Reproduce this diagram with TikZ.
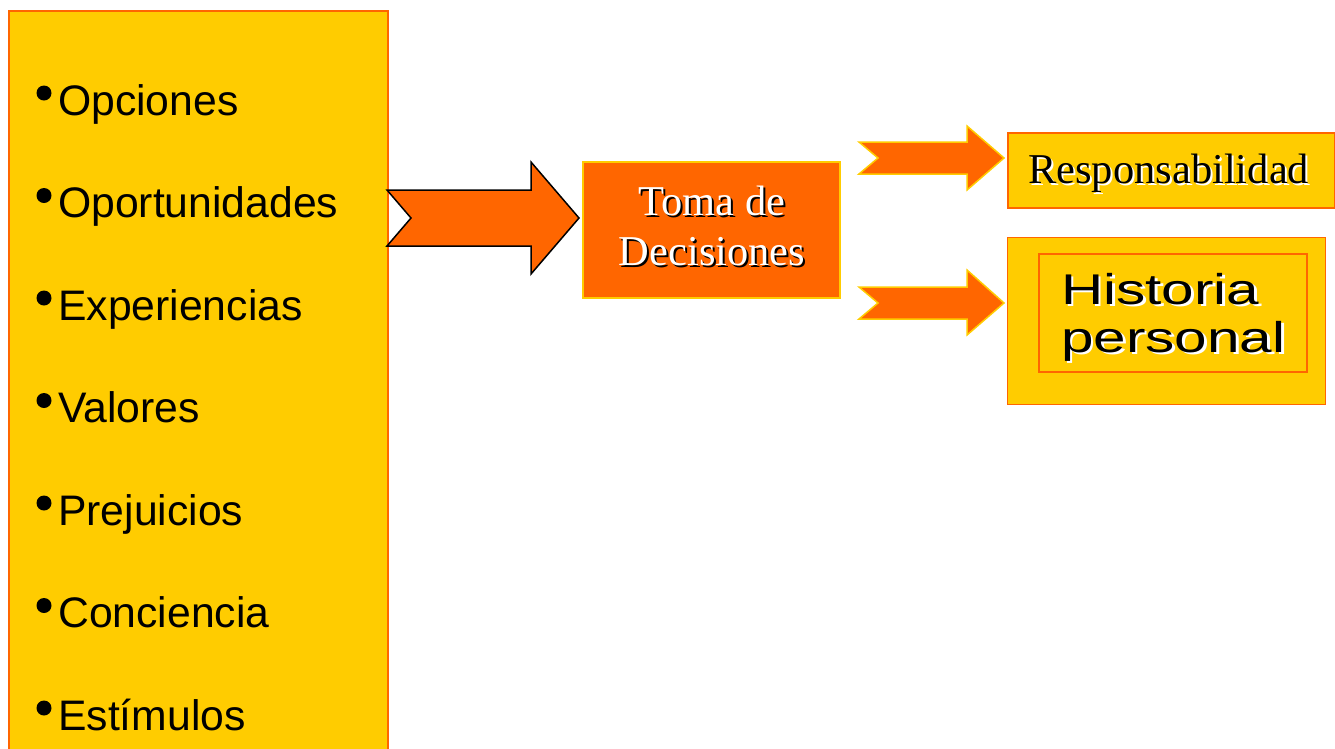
\documentclass[tikz,border=0pt]{standalone}
\usepackage{fontspec}
\setmainfont{Liberation Serif}
\newfontfamily\arialf{Liberation Sans}
\usepackage{graphicx}
\definecolor{yel}{HTML}{FFCC00}
\definecolor{org}{HTML}{FF6600}
\newcommand\shtxt[3]{\leavevmode\rlap{\hspace{2pt}\raisebox{-2pt}{\color{#1}#3}}{\color{#2}#3}}
\tikzset{
  itemtxt/.style={anchor=base west, inner sep=0pt, font=\arialf\fontsize{42.7}{50}\selectfont},
  bulletdot/.style={circle, fill=black, inner sep=0pt, minimum size=15pt},
  serift/.style={inner sep=0pt, font=\fontsize{42.5}{50}\selectfont},
  histt/.style={anchor=base west, inner sep=0pt, font=\arialf\fontsize{43}{50}\selectfont},
  blockarrowbig/.style={draw=black, line width=1.5pt, fill=org, line join=miter},
  blockarrowsmall/.style={draw=yel, line width=1.5pt, fill=org, line join=miter},
}
\begin{document}
\begin{tikzpicture}[x=1pt,y=-1pt]
\useasboundingbox (0,0) rectangle (1335,748);
\clip (0,0) rectangle (1335,748);
% left box
\node[draw=org, fill=yel, line width=1.5pt, minimum width=379pt, minimum height=760pt, anchor=north west, inner sep=0pt] (left) at (8,10) {};
\foreach \t [count=\i from 0] in {Opciones,Oportunidades,Experiencias,Valores,Prejuicios,Conciencia,Estímulos}{
  \node[bulletdot] (b\i) at (44,{115+102.5*\i-22}) {};
  \node[itemtxt] (it\i) at (58,{115+102.5*\i}) {\t};
}
% big arrow
\draw[blockarrowbig] (387,190) -- (531,190) -- (531,162) -- (579,218) -- (531,274) -- (531,246) -- (387,246) -- (411,218) -- cycle;
% toma box
\node[draw=yel, fill=org, line width=1.5pt, minimum width=257pt, minimum height=136pt, inner sep=0pt] (toma) at (711.5,230) {};
\node[serift, anchor=base] (toma1) at (712,215) {\shtxt{black}{white}{Toma de}};
\node[serift, anchor=base] (toma2) at (712,265) {\shtxt{black}{white}{Decisiones}};
% small arrows
\draw[blockarrowsmall] (859,142) -- (967,142) -- (967,126) -- (1004,158) -- (967,190) -- (967,174) -- (859,174) -- (878,158) -- cycle;
\draw[blockarrowsmall] (859,287) -- (967,287) -- (967,270) -- (1004,303) -- (967,335) -- (967,319) -- (859,319) -- (878,303) -- cycle;
% responsabilidad
\node[draw=org, fill=yel, line width=1.5pt, anchor=north west, minimum width=327pt, minimum height=75pt, inner sep=0pt] (resp) at (1007,132) {};
\node[serift, anchor=base west] (respt) at (1028,183) {\shtxt{white}{black}{Responsabilidad}};
% historia
\node[draw=org, fill=yel, line width=1pt, anchor=north west, minimum width=318pt, minimum height=167pt, inner sep=0pt] (hist) at (1007,237) {};
\node[draw=org, line width=1.5pt, anchor=north west, minimum width=268pt, minimum height=118pt, inner sep=0pt] (histin) at (1038,253) {};
\node[histt] (hist1) at (1061,304) {\scalebox{1.36}[1]{\shtxt{white}{black}{Historia}}};
\node[histt] (hist2) at (1061,352) {\scalebox{1.36}[1]{\shtxt{white}{black}{personal}}};
\end{tikzpicture}
\end{document}
